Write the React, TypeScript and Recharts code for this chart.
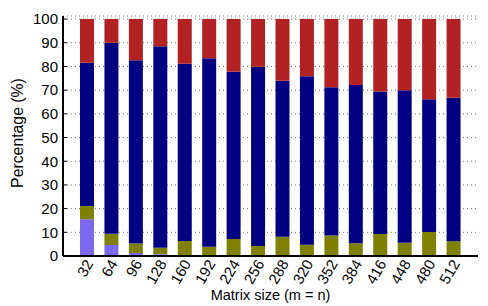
import React from "react";
import { BarChart, Bar, XAxis, YAxis, CartesianGrid, Label } from "recharts";

const sizes = ["32", "64", "96", "128", "160", "192", "224", "256", "288", "320", "352", "384", "416", "448", "480", "512"];
// stacked segments, bottom to top (percent of total)
const purpleSeg = [15.5, 4.6, 1.3, 0.7, 0.4, 0.2, 0.1, 0.1, 0, 0, 0, 0, 0, 0, 0, 0];
const oliveSeg = [5.6, 4.8, 4.0, 2.8, 5.9, 3.7, 7.1, 4.1, 8.1, 4.8, 8.7, 5.4, 9.3, 5.6, 10.1, 6.2];
const navySeg = [60.5, 80.6, 77.3, 85.0, 74.8, 79.6, 70.6, 75.7, 65.9, 71.1, 62.5, 66.8, 60.1, 64.4, 56.1, 60.6];
const redSeg = [18.4, 10.0, 17.4, 11.5, 18.9, 16.5, 22.2, 20.1, 26.0, 24.1, 28.8, 27.8, 30.6, 30.0, 33.8, 33.2];
const yTicks = [0, 10, 20, 30, 40, 50, 60, 70, 80, 90, 100];

const data = sizes.map((s, i) => ({
  size: s,
  a: purpleSeg[i],
  b: oliveSeg[i],
  c: navySeg[i],
  d: redSeg[i],
}));

const FONT = "'Liberation Sans', Arial, Helvetica, sans-serif";

const XTick = (props: any) => {
  const { x, payload } = props;
  const ax = x + 2;
  const ay = 261;
  return (
    <text
      x={ax}
      y={ay}
      transform={`rotate(-60 ${ax} ${ay})`}
      textAnchor="end"
      dy="0.35em"
      fontSize={15}
      fontFamily={FONT}
      fill="#000"
    >
      {payload.value}
    </text>
  );
};

export default function App() {
  return (
    <div style={{ position: "absolute", left: 0, top: 0, width: 488, height: 306, background: "#fff" }}>
      <BarChart
        width={488}
        height={306}
        data={data}
        margin={{ top: 16, right: 10, left: 13, bottom: 0 }}
        barCategoryGap={5}
      >
        <CartesianGrid vertical={false} stroke="#777" strokeDasharray="1 3" />
        <XAxis
          dataKey="size"
          interval={0}
          height={50}
          padding={{ left: 12, right: 12 }}
          axisLine={{ stroke: "#000", strokeWidth: 2 }}
          tickLine={false}
          tick={<XTick />}
        >
          <Label
            value="Matrix size (m = n)"
            position="insideBottom"
            offset={6}
            style={{ fontSize: 14.5, fontFamily: FONT, fill: "#000" }}
          />
        </XAxis>
        <XAxis
          xAxisId="top"
          dataKey="size"
          orientation="top"
          height={0}
          interval={0}
          padding={{ left: 12, right: 12 }}
          axisLine={{ stroke: "#444", strokeWidth: 2 }}
          tickLine={{ stroke: "#000" }}
          tickSize={-3}
          tick={false}
        />
        <YAxis
          width={50}
          domain={[0, 101.3]}
          ticks={yTicks}
          interval={0}
          allowDataOverflow
          axisLine={{ stroke: "#000", strokeWidth: 2 }}
          tickLine={{ stroke: "#000" }}
          tickSize={-4}
          tickMargin={9}
          tick={{ fontSize: 15, fontFamily: FONT, fill: "#000" }}
        >
          <Label
            content={() => (
              <text
                x={17}
                y={133}
                transform="rotate(-90 17 133)"
                textAnchor="middle"
                dominantBaseline="central"
                fontSize={15.8}
                fontFamily={FONT}
                fill="#000"
              >
                Percentage (%)
              </text>
            )}
          />
        </YAxis>
        <YAxis
          yAxisId="right"
          orientation="right"
          width={0}
          domain={[0, 101.3]}
          ticks={yTicks}
          interval={0}
          allowDataOverflow
          axisLine={{ stroke: "#000", strokeWidth: 2 }}
          tickLine={{ stroke: "#000" }}
          tickSize={-4}
          tick={false}
        />
        <Bar dataKey="a" stackId="s" fill="#7b68ee" isAnimationActive={false} />
        <Bar dataKey="b" stackId="s" fill="#808000" isAnimationActive={false} />
        <Bar dataKey="c" stackId="s" fill="#000080" isAnimationActive={false} />
        <Bar dataKey="d" stackId="s" fill="#b22222" isAnimationActive={false} />
      </BarChart>
    </div>
  );
}
